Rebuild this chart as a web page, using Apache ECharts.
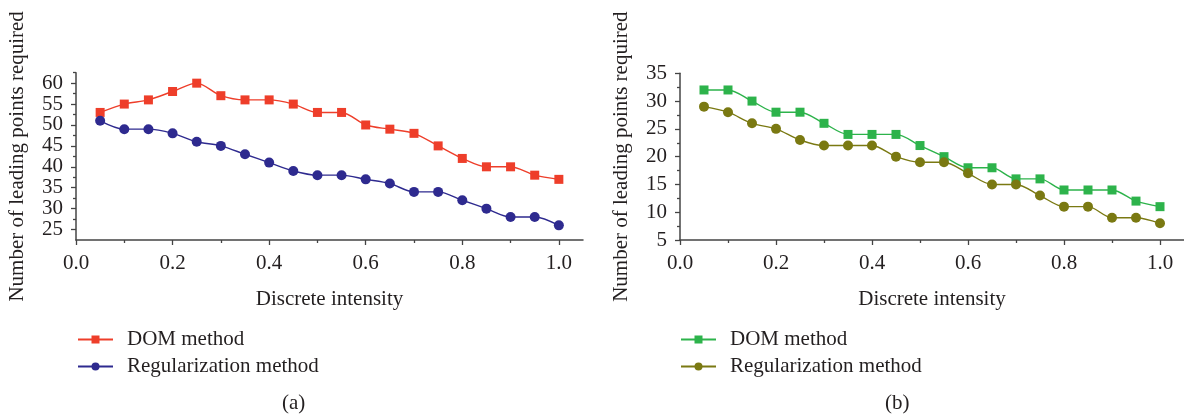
<!DOCTYPE html>
<html>
<head>
<meta charset="utf-8">
<script src="https://cdn.jsdelivr.net/npm/echarts@6/dist/echarts.min.js"></script>
<style>html,body{margin:0;padding:0;background:#fff;}#c{width:1184px;height:419px;}</style>
</head>
<body>
<div id="c"></div>
<script>
const xValues = [0.05,0.10,0.15,0.20,0.25,0.30,0.35,0.40,0.45,0.50,0.55,0.60,0.65,0.70,0.75,0.80,0.85,0.90,0.95,1.00];
const domA = [53,55,56,58,60,57,56,56,55,53,53,50,49,48,45,42,40,40,38,37];
const regA = [51,49,49,48,46,45,43,41,39,38,38,37,36,34,34,32,30,28,28,26];
const domB = [32,32,30,28,28,26,24,24,24,22,20,18,18,16,16,14,14,14,12,11];
const regB = [29,28,26,25,23,22,22,22,20,19,19,17,15,15,13,11,11,9,9,8];
const xMajorTicks = [0,0.2,0.4,0.6,0.8,1.0];
const xMinorTicks = [0.1,0.3,0.5,0.7,0.9];
const yMajorA = [25,30,35,40,45,50,55,60];
const yMinorA = [27.5,32.5,37.5,42.5,47.5,52.5,57.5,62.5];
const yMajorB = [5,10,15,20,25,30,35];
const yMinorB = [7.5,12.5,17.5,22.5,27.5,32.5];
const names = ['DOM method','Regularization method'];
const caption = ['(a)','(b)'];

const FONT = 'Liberation Serif';
const FS = 21;
const TXT = '#231f20';
const AX = '#444444';
const pairs = ys => xValues.map((x,i)=>[x, ys[i]]);

function xAxes(gi){
  return [{
    type:'value', gridIndex:gi, min:0, max:1.05,
    name:'Discrete intensity', nameLocation:'middle', nameGap:49,
    nameTextStyle:{fontFamily:FONT,fontSize:FS,color:TXT},
    axisLine:{show:true,lineStyle:{color:AX,width:1.5}},
    axisTick:{show:true,customValues:xMajorTicks,length:5,lineStyle:{color:AX,width:1.3}},
    axisLabel:{customValues:xMajorTicks,margin:13,fontFamily:FONT,fontSize:FS,color:TXT,formatter:v=>v.toFixed(1)},
    splitLine:{show:false}
  },{
    type:'value', gridIndex:gi, min:0, max:1.05, position:'bottom',
    axisLine:{show:false},
    axisTick:{show:true,customValues:xMinorTicks,length:3,lineStyle:{color:AX,width:1.3}},
    axisLabel:{show:false}, splitLine:{show:false}
  }];
}
function yAxes(gi,min,max,major,minor){
  return [{
    type:'value', gridIndex:gi, min:min, max:max, position:'left',
    name:'Number of leading points required', nameLocation:'middle', nameGap:48,
    nameTextStyle:{fontFamily:FONT,fontSize:FS,color:TXT},
    axisLine:{show:true,lineStyle:{color:AX,width:1.5}},
    axisTick:{show:true,customValues:major,length:5,lineStyle:{color:AX,width:1.3}},
    axisLabel:{customValues:major,margin:13,fontFamily:FONT,fontSize:FS,color:TXT},
    splitLine:{show:false}
  },{
    type:'value', gridIndex:gi, min:min, max:max, position:'left', offset:0,
    axisLine:{show:false},
    axisTick:{show:true,customValues:minor,length:3,lineStyle:{color:AX,width:1.3}},
    axisLabel:{show:false}, splitLine:{show:false}
  }];
}
function ser(name, ys, color, symbol, xi, yi){
  return {
    type:'line', name:name, xAxisIndex:xi, yAxisIndex:yi, data:pairs(ys),
    smooth:0.3, symbol:symbol, symbolSize:symbol==='rect'?9:10,
    lineStyle:{color:color,width:1.4}, itemStyle:{color:color},
    emphasis:{disabled:true}
  };
}
const suffixB = '\u200b';
const legendText = {fontFamily:FONT,fontSize:FS,color:TXT,padding:[0,0,0,9]};
const option = {
  animation:false,
  backgroundColor:'#ffffff',
  textStyle:{fontFamily:FONT},
  grid:[
    {left:76, top:72.7, width:507, height:167.3},
    {left:680, top:73.3, width:506, height:166.7}
  ],
  xAxis:[...xAxes(0), ...xAxes(1)],
  yAxis:[...yAxes(0,22.5,62.5,yMajorA,yMinorA), ...yAxes(1,5,35,yMajorB,yMinorB)],
  legend:[
    {orient:'vertical', left:77, top:329, padding:0, itemWidth:35, itemHeight:10, itemGap:6,
     data:[names[0],names[1]], textStyle:legendText, selectedMode:false},
    {orient:'vertical', left:680, top:329, padding:0, itemWidth:35, itemHeight:10, itemGap:6,
     data:[names[0]+suffixB,names[1]+suffixB], textStyle:legendText, selectedMode:false}
  ],
  graphic:[
    {type:'text', left:282, top:393, style:{text:caption[0], font:FS+'px "Liberation Serif"', fill:TXT}},
    {type:'text', left:885, top:393, style:{text:caption[1], font:FS+'px "Liberation Serif"', fill:TXT}}
  ],
  series:[
    ser(names[0], domA, '#ee3e2a', 'rect', 0, 0),
    ser(names[1], regA, '#2e2a8f', 'circle', 0, 0),
    ser(names[0]+suffixB, domB, '#2db34b', 'rect', 2, 2),
    ser(names[1]+suffixB, regB, '#7a7912', 'circle', 2, 2)
  ]
};
const chart = echarts.init(document.getElementById('c'), null, {renderer:'canvas'});
chart.setOption(option);
</script>
</body>
</html>
